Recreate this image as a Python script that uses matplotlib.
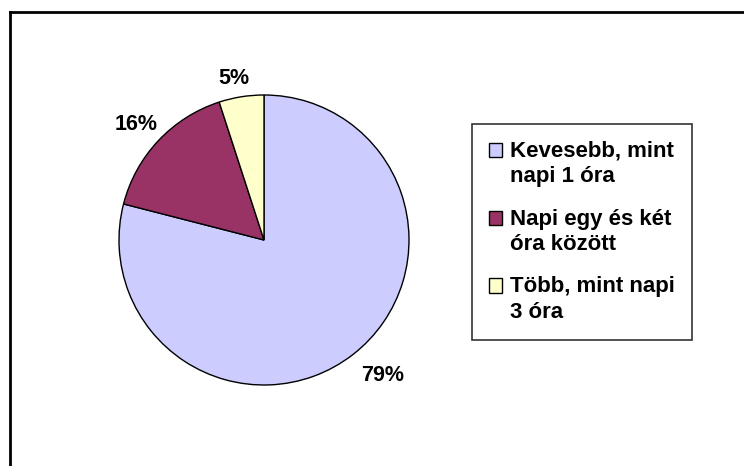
import matplotlib
matplotlib.use("Agg")
import numpy as np
import matplotlib.pyplot as plt
from matplotlib.lines import Line2D
from matplotlib.patches import Rectangle
from matplotlib.legend_handler import HandlerPatch

labels = ["Kevesebb, mint\nnapi 1 óra", "Napi egy és két\nóra között", "Több, mint napi\n3 óra"]
values = [79, 16, 5]
colors = ["#CCCCFF", "#993366", "#FFFFCC"]

plt.rcParams['font.family'] = ['Liberation Sans', 'DejaVu Sans']

fig = plt.figure(figsize=(7.44, 4.66), dpi=100)
W, H = 744, 466

# outer frame (left and top edges visible)
fig.add_artist(Line2D([10/W, 10/W], [0, 1 - 12/H], color='black', lw=2, transform=fig.transFigure))
fig.add_artist(Line2D([10/W, 1], [1 - 12/H, 1 - 12/H], color='black', lw=2, transform=fig.transFigure))

cx, cy, r = 264, 240, 145
ax = fig.add_axes([(cx - r)/W, (H - cy - r)/H, 2*r/W, 2*r/H])
wedges, texts, autotexts = ax.pie(values, colors=colors, startangle=90, counterclock=False,
                                  autopct='%d%%', pctdistance=1.18,
                                  wedgeprops=dict(edgecolor='black', linewidth=1))
label_dist = [1.24, 1.19, 1.13]
label_rot = [3.5, 1.2, 1.6]
for w, t, d, a in zip(wedges, autotexts, label_dist, label_rot):
    ang = np.deg2rad((w.theta1 + w.theta2) / 2 + a)
    t.set_position((d * np.cos(ang), d * np.sin(ang)))
    t.set_fontsize(15.5)
    t.set_fontweight('bold')
ax.set_xlim(-1, 1)
ax.set_ylim(-1, 1)
ax.set_aspect('equal')

LEG_FS = 16
LINESP = 1.3


def top_square(legend, orig_handle, xdescent, ydescent, width, height, fontsize):
    shift = 0.5 * LINESP * fontsize
    return Rectangle((-xdescent, -ydescent + shift), width, height)


leg = fig.legend(wedges, labels, loc='upper left',
                 bbox_to_anchor=(472/W, 1 - 124/H), bbox_transform=fig.transFigure,
                 frameon=True, fancybox=False, edgecolor='black',
                 prop=dict(size=LEG_FS, weight='bold'),
                 handlelength=0.62, handleheight=0.62, handletextpad=0.35,
                 labelspacing=0.95, borderpad=0.75, borderaxespad=0,
                 handler_map={w: HandlerPatch(patch_func=top_square) for w in wedges})
for t in leg.get_texts():
    t.set_linespacing(LINESP)
leg.get_frame().set_linewidth(1.2)

fig.savefig("out.png", dpi=100)
